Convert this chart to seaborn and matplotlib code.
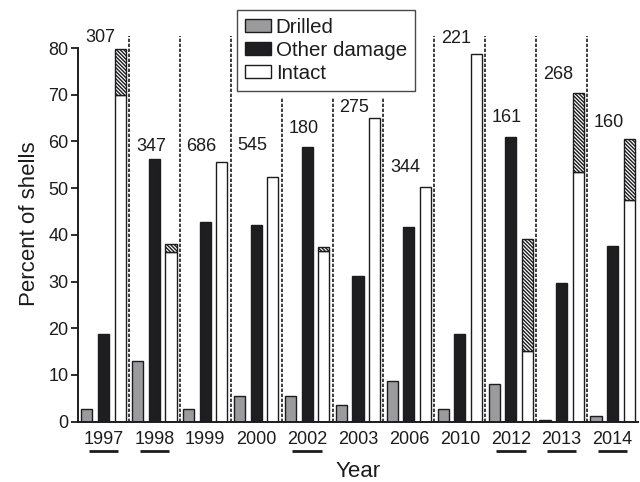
import numpy as np
import pandas as pd
import matplotlib
matplotlib.use("Agg")
import matplotlib.pyplot as plt
import matplotlib.transforms as mtransforms
from matplotlib.patches import Patch
import seaborn as sns

# ---- data -------------------------------------------------------------
years = ["1997", "1998", "1999", "2000", "2002", "2003",
         "2006", "2010", "2012", "2013", "2014"]
drilled = [2.7, 13.1, 2.7, 5.5, 5.6, 3.6, 8.7, 2.7, 8.1, 0.4, 1.3]
other_damage = [18.7, 56.2, 42.8, 42.1, 58.9, 31.3, 41.6, 18.7, 61.0, 29.6, 37.6]
intact = [69.9, 36.4, 55.5, 52.4, 36.6, 65.0, 50.3, 78.7, 15.2, 53.5, 47.5]
intact_hatched = [9.8, 1.6, 0.0, 0.0, 0.7, 0.0, 0.0, 0.0, 23.9, 16.9, 13.1]
sample_sizes = [307, 347, 686, 545, 180, 275, 344, 221, 161, 268, 160]
categories = ["Drilled", "Other damage", "Intact"]

# height (percent) of the baseline of each sample-size label
count_label_y = [81.3, 58.0, 58.0, 58.1, 61.9, 66.3, 53.5, 81.0, 64.2, 73.3, 63.0]

df = pd.DataFrame({
    "Year": np.repeat(years, 3),
    "Category": categories * len(years),
    "Percent": np.ravel(np.column_stack([drilled, other_damage, intact])),
})

# ---- style ------------------------------------------------------------
sns.set_style("ticks")
plt.rcParams["font.family"] = ["Liberation Sans", "DejaVu Sans"]
plt.rcParams["hatch.linewidth"] = 1.0
ink = "#1c1c1e"
plt.rcParams["text.color"] = ink
plt.rcParams["axes.labelcolor"] = ink
plt.rcParams["xtick.color"] = ink
plt.rcParams["ytick.color"] = ink

palette = {"Drilled": "#9b9b9e", "Other damage": "#1e1e21", "Intact": "#ffffff"}

fig = plt.figure(figsize=(6.4, 4.82), dpi=100)
ax = fig.add_axes([0.1219, 0.1251, 0.875, 0.8237])

sns.barplot(data=df, x="Year", y="Percent", hue="Category",
            order=years, hue_order=categories, palette=palette,
            saturation=1, width=0.98, gap=0.33, errorbar=None,
            edgecolor=ink, linewidth=1.0, legend=False, ax=ax)

# hatched upper part of the intact bars
intact_bars = ax.containers[2]
for bar, extra in zip(intact_bars, intact_hatched):
    if extra > 0:
        ax.bar(bar.get_x(), extra, bottom=bar.get_height(),
               width=bar.get_width(), align="edge", facecolor="white",
               edgecolor=ink, linewidth=1.0, hatch="\\" * 9, zorder=3)

ax.set_xlim(-0.5, len(years) - 0.5)
ax.set_ylim(0, 85)
ax.set_yticks(np.arange(0, 81, 10))
ax.spines["left"].set_bounds(0, 80)
for side in ("top", "right"):
    ax.spines[side].set_visible(False)
for side in ("left", "bottom"):
    ax.spines[side].set_linewidth(1.4)
    ax.spines[side].set_color(ink)

ax.tick_params(axis="y", length=5, width=1.3, labelsize=13, pad=2)
ax.tick_params(axis="x", length=0, labelsize=13, pad=7)
ax.set_xlabel("Year", fontsize=16, labelpad=9)
ax.set_ylabel("Percent of shells", fontsize=16, labelpad=6)

# sample sizes above each year
for i, (n, y) in enumerate(zip(sample_sizes, count_label_y)):
    ax.text(i - 0.07, y, str(n), ha="center", va="baseline", fontsize=13)

# underline the years that have a hatched portion
under = mtransforms.blended_transform_factory(ax.transData, ax.transAxes)
for i, extra in enumerate(intact_hatched):
    if extra > 0:
        ax.plot([i - 0.29, i + 0.29], [-0.073, -0.073], color=ink,
                linewidth=2.0, transform=under, clip_on=False,
                solid_capstyle="butt")

# legend
handles = [Patch(facecolor=palette[c], edgecolor=ink, linewidth=1.0)
           for c in categories]
leg = fig.legend(handles, categories, loc="upper left",
                 bbox_to_anchor=(237 / 640, 1 - 10 / 482),
                 bbox_transform=fig.transFigure, fontsize=14.8,
                 frameon=True, fancybox=False, borderpad=0.38,
                 handlelength=1.25, handleheight=0.58, handletextpad=0.25,
                 labelspacing=0.2, borderaxespad=0)
leg.get_frame().set_edgecolor(ink)
leg.get_frame().set_linewidth(1.0)
leg.set_zorder(10)

# dashed separators between years, stopping short of the legend box
fig.canvas.draw()
lb = leg.get_window_extent().transformed(ax.transData.inverted())
for b in np.arange(0.5, len(years) - 0.5, 1.0):
    top = 82.5
    if lb.x0 - 0.05 < b < lb.x1 + 0.05:
        top = lb.y0 - 1.5
    ax.plot([b, b], [0, top], color=ink, linewidth=1.2,
            linestyle=(0, (2.0, 1.0)), zorder=4)

fig.savefig("out.png", dpi=100)
